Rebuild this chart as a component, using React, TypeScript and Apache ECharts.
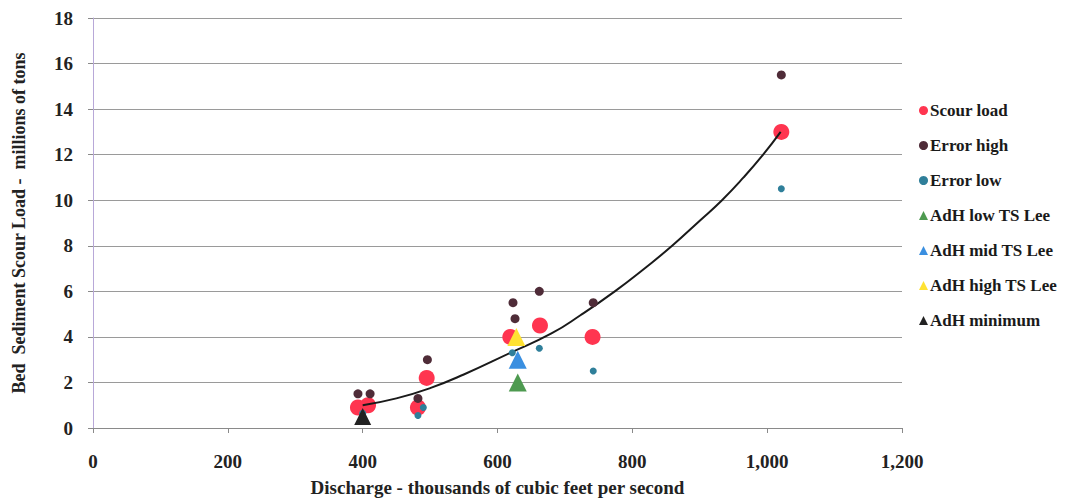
import React, { useEffect, useRef } from "react";
import * as echarts from "echarts";

const scourLoad: number[][] = [[393, 0.9], [408, 1.0], [482, 0.9], [495, 2.2], [619, 4.0], [663, 4.5], [741, 4.0], [1021, 13.0]];
const errorHigh: number[][] = [[393, 1.5], [411, 1.5], [482, 1.3], [496, 3.0], [623, 5.5], [626, 4.8], [662, 6.0], [742, 5.5], [1021, 15.5]];
const errorLow: number[][] = [[400, 0.65], [482, 0.55], [490, 0.9], [622, 3.3], [662, 3.5], [742, 2.5], [1021, 10.5]];
const adhLow: number[][] = [[630, 2.0]];
const adhMid: number[][] = [[630, 3.0]];
const adhHigh: number[][] = [[628, 4.0]];
const adhMin: number[][] = [[400, 0.5]];
const trendLine: number[][] = [[400, 1.0], [450, 1.3], [500, 1.75], [550, 2.35], [619, 3.3], [680, 4.15], [723, 4.95], [774, 6.0], [820, 7.05], [859, 8.0], [900, 9.1], [933, 10.0], [965, 11.0], [994, 12.0], [1020, 13.0]];

const legendNames = ["Scour load", "Error high", "Error low", "AdH low TS Lee", "AdH mid TS Lee", "AdH high TS Lee", "AdH minimum"];

const FONT = "'Liberation Serif', 'DejaVu Serif', serif";

export default function App() {
  const ref = useRef<HTMLDivElement>(null);
  useEffect(() => {
    if (!ref.current) return;
    const chart = echarts.init(ref.current, undefined, { renderer: "svg" });
    chart.setOption({
      animation: false,
      backgroundColor: "#ffffff",
      grid: { left: 93, right: 176, top: 18, bottom: 74, containLabel: false, outerBoundsMode: "none" },
      legend: {
        orient: "vertical",
        left: 914,
        top: 97,
        itemGap: 18,
        itemWidth: 9,
        itemHeight: 9,
        textStyle: { fontFamily: FONT, fontWeight: "bold", fontSize: 17, color: "#1a1a1a", padding: [0, 0, 0, -3] },
        data: [
          { name: legendNames[0], icon: "circle" },
          { name: legendNames[1], icon: "circle" },
          { name: legendNames[2], icon: "circle" },
          { name: legendNames[3], icon: "triangle" },
          { name: legendNames[4], icon: "triangle" },
          { name: legendNames[5], icon: "triangle" },
          { name: legendNames[6], icon: "triangle" },
        ],
      },
      xAxis: {
        type: "value",
        min: 0,
        max: 1200,
        interval: 200,
        name: "Discharge - thousands of cubic feet per second",
        nameLocation: "middle",
        nameGap: 50,
        nameTextStyle: { fontFamily: FONT, fontWeight: "bold", fontSize: 19, color: "#222" },
        axisLine: { show: true, lineStyle: { color: "#8a8a8a", width: 1 } },
        axisTick: { show: true, length: 5, lineStyle: { color: "#8a8a8a" } },
        axisLabel: {
          fontFamily: FONT,
          fontWeight: "bold",
          fontSize: 19,
          color: "#222",
          margin: 24,
          formatter: (v: number) => v.toLocaleString("en-US"),
        },
        splitLine: { show: false },
      },
      yAxis: {
        type: "value",
        min: 0,
        max: 18,
        interval: 2,
        name: "Bed  Sediment Scour Load -  millions of tons",
        nameLocation: "middle",
        nameGap: 65,
        nameTextStyle: { fontFamily: FONT, fontWeight: "bold", fontSize: 18, color: "#222" },
        axisLine: { show: true, lineStyle: { color: "#b8a8d8", width: 1 } },
        axisTick: { show: true, length: 5, lineStyle: { color: "#8a8a8a" } },
        axisLabel: { fontFamily: FONT, fontWeight: "bold", fontSize: 19, color: "#222", margin: 20 },
        splitLine: { show: true, lineStyle: { color: "#9a9a9a", width: 1 } },
      },
      series: [
        {
          name: "Trend",
          type: "line",
          data: trendLine,
          smooth: true,
          showSymbol: false,
          lineStyle: { color: "#1a1a1a", width: 2 },
          z: 3,
        },
        {
          name: legendNames[0],
          type: "scatter",
          data: scourLoad,
          symbol: "circle",
          symbolSize: 16,
          itemStyle: { color: "#ff3550", opacity: 1 },
          z: 2,
        },
        {
          name: legendNames[1],
          type: "scatter",
          data: errorHigh,
          symbol: "circle",
          symbolSize: 9,
          itemStyle: { color: "#4f2c38", opacity: 1 },
          z: 4,
        },
        {
          name: legendNames[2],
          type: "scatter",
          data: errorLow,
          symbol: "circle",
          symbolSize: 7,
          itemStyle: { color: "#2f7f9a", opacity: 1 },
          z: 4,
        },
        {
          name: legendNames[3],
          type: "scatter",
          data: adhLow,
          symbol: "triangle",
          symbolSize: 18,
          itemStyle: { color: "#4e9a50", opacity: 1 },
          z: 5,
        },
        {
          name: legendNames[4],
          type: "scatter",
          data: adhMid,
          symbol: "triangle",
          symbolSize: 18,
          itemStyle: { color: "#3a8fe0", opacity: 1 },
          z: 5,
        },
        {
          name: legendNames[5],
          type: "scatter",
          data: adhHigh,
          symbol: "triangle",
          symbolSize: 18,
          itemStyle: { color: "#ffe233", opacity: 1 },
          z: 5,
        },
        {
          name: legendNames[6],
          type: "scatter",
          data: adhMin,
          symbol: "triangle",
          symbolSize: 17,
          itemStyle: { color: "#222222", opacity: 1 },
          z: 5,
        },
      ],
    });
    return () => chart.dispose();
  }, []);
  return <div ref={ref} style={{ position: "absolute", left: 0, top: 0, width: 1078, height: 502 }} />;
}
